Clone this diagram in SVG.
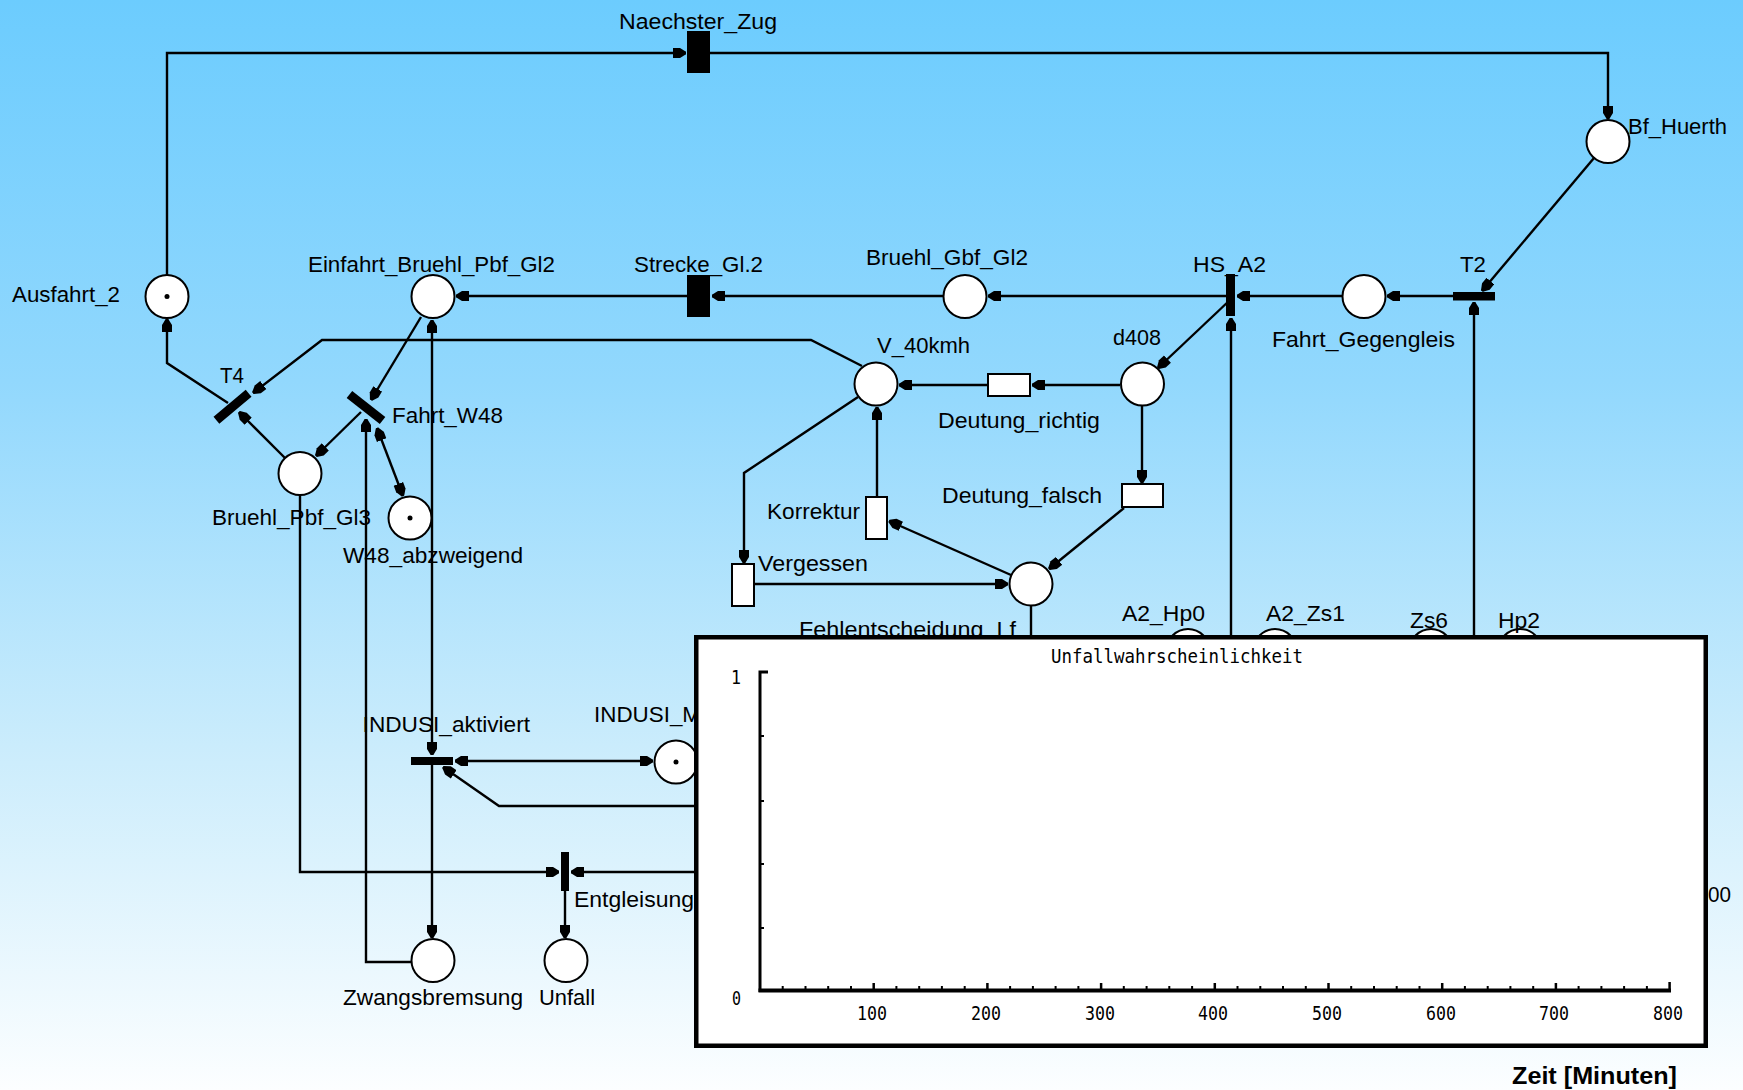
<svg xmlns="http://www.w3.org/2000/svg" width="1743" height="1090" viewBox="0 0 1743 1090">
<defs>
<linearGradient id="bg" x1="0" y1="0" x2="0" y2="1">
<stop offset="0" stop-color="#6CCCFE"/>
<stop offset="0.35" stop-color="#92D8FD"/>
<stop offset="0.7" stop-color="#CDEDFC"/>
<stop offset="1" stop-color="#FCFEFF"/>
</linearGradient>
<marker id="arr" viewBox="0 -6 14 12" refX="13" refY="0" markerWidth="14" markerHeight="12" markerUnits="userSpaceOnUse" orient="auto-start-reverse">
<path d="M0,-5 H7 L13,-1.3 V1.3 L7,5 H0 Z" fill="#000"/>
</marker>
</defs>
<style>
.lbl{font-family:"Liberation Sans",Arial,sans-serif;font-size:22px;fill:#000}
.pl{fill:#fff;stroke:#000;stroke-width:2}
.tb{fill:#000}
.tw{fill:#fff;stroke:#000;stroke-width:2}
.arc{fill:none;stroke:#000;stroke-width:2.4}
.tok{fill:#000}
.mono{font-family:"DejaVu Sans Mono","Liberation Mono",monospace;font-size:20px;fill:#000}
.ax{fill:none;stroke:#000}
</style>
<rect x="0" y="0" width="1743" height="1090" fill="url(#bg)"/>

<g id="connectors">
<path class="arc" d="M167,275 V53 H686" marker-end="url(#arr)"/>
<path class="arc" d="M710,53 H1608 V119" marker-end="url(#arr)"/>
<path class="arc" d="M1594,158 L1482,291" marker-end="url(#arr)"/>
<path class="arc" d="M1453,296 H1387" marker-end="url(#arr)"/>
<path class="arc" d="M1342,296 H1237" marker-end="url(#arr)"/>
<path class="arc" d="M1226,296 H988" marker-end="url(#arr)"/>
<path class="arc" d="M943,296 H712" marker-end="url(#arr)"/>
<path class="arc" d="M687,296 H456" marker-end="url(#arr)"/>
<path class="arc" d="M1230,300 L1158,368" marker-end="url(#arr)"/>
<path class="arc" d="M1231,645 V318" marker-end="url(#arr)"/>
<path class="arc" d="M1474,645 V302" marker-end="url(#arr)"/>
<path class="arc" d="M1120,385 H1032" marker-end="url(#arr)"/>
<path class="arc" d="M988,385 H899" marker-end="url(#arr)"/>
<path class="arc" d="M1142,406 V483" marker-end="url(#arr)"/>
<path class="arc" d="M1124,508 L1049,569" marker-end="url(#arr)"/>
<path class="arc" d="M1011,575 L889,521" marker-end="url(#arr)"/>
<path class="arc" d="M877,496 V407" marker-end="url(#arr)"/>
<path class="arc" d="M858,397 L744,473 V563" marker-end="url(#arr)"/>
<path class="arc" d="M754,584 H1008" marker-end="url(#arr)"/>
<path class="arc" d="M862,366 L811,340 H322 L253,393" marker-end="url(#arr)"/>
<path class="arc" d="M421,317 L371,400" marker-end="url(#arr)"/>
<path class="arc" d="M432,320 V755" marker-start="url(#arr)" marker-end="url(#arr)"/>
<path class="arc" d="M432,765 V938" marker-end="url(#arr)"/>
<path class="arc" d="M455,761 H653" marker-start="url(#arr)" marker-end="url(#arr)"/>
<path class="arc" d="M705,806 H499 L443,767" marker-end="url(#arr)"/>
<path class="arc" d="M300,495 V872 H559" marker-end="url(#arr)"/>
<path class="arc" d="M705,872 H571" marker-end="url(#arr)"/>
<path class="arc" d="M565,891 V938" marker-end="url(#arr)"/>
<path class="arc" d="M411,962 H366 V419" marker-end="url(#arr)"/>
<path class="arc" d="M377,428 L403,496" marker-start="url(#arr)" marker-end="url(#arr)"/>
<path class="arc" d="M361,412 L316,456" marker-end="url(#arr)"/>
<path class="arc" d="M285,458 L239,412" marker-end="url(#arr)"/>
<path class="arc" d="M228,403 L167,363 V319" marker-end="url(#arr)"/>
<path class="arc" d="M1031,605 V645"/>
</g>

<g id="Ausfahrt_2"><circle class="pl" cx="167" cy="296.5" r="21.5"/><circle class="tok" cx="167" cy="296.5" r="2.5"/><text class="lbl" x="12" y="301.5" textLength="108" lengthAdjust="spacingAndGlyphs">Ausfahrt_2</text></g>
<g id="Einfahrt_Bruehl_Pbf_Gl2"><circle class="pl" cx="433" cy="296.5" r="21.5"/><text class="lbl" x="308" y="271.5" textLength="247" lengthAdjust="spacingAndGlyphs">Einfahrt_Bruehl_Pbf_Gl2</text></g>
<g id="Naechster_Zug"><rect class="tb" x="687" y="31" width="23" height="42"/><text class="lbl" x="619" y="28.5" textLength="158" lengthAdjust="spacingAndGlyphs">Naechster_Zug</text></g>
<g id="Strecke_Gl2"><rect class="tb" x="687" y="275" width="23" height="42"/><text class="lbl" x="634" y="271.5" textLength="129" lengthAdjust="spacingAndGlyphs">Strecke_Gl.2</text></g>
<g id="Bruehl_Gbf_Gl2"><circle class="pl" cx="965" cy="296.5" r="21.5"/><text class="lbl" x="866" y="265" textLength="162" lengthAdjust="spacingAndGlyphs">Bruehl_Gbf_Gl2</text></g>
<g id="HS_A2"><rect class="tb" x="1226" y="274" width="9" height="42"/><text class="lbl" x="1193" y="271.5" textLength="73" lengthAdjust="spacingAndGlyphs">HS_A2</text></g>
<g id="Fahrt_Gegengleis"><circle class="pl" cx="1364" cy="296.5" r="21.5"/><text class="lbl" x="1272" y="346.5" textLength="183" lengthAdjust="spacingAndGlyphs">Fahrt_Gegengleis</text></g>
<g id="T2"><rect class="tb" x="1453" y="292" width="42" height="8.5"/><text class="lbl" x="1460" y="272" textLength="26" lengthAdjust="spacingAndGlyphs">T2</text></g>
<g id="Bf_Huerth"><circle class="pl" cx="1608" cy="141.5" r="21.5"/><text class="lbl" x="1628" y="134" textLength="99" lengthAdjust="spacingAndGlyphs">Bf_Huerth</text></g>
<g id="d408"><circle class="pl" cx="1142.5" cy="384" r="21.5"/><text class="lbl" x="1113" y="345" textLength="48" lengthAdjust="spacingAndGlyphs">d408</text></g>
<g id="V_40kmh"><circle class="pl" cx="876" cy="384" r="21.5"/><text class="lbl" x="877" y="352.5" textLength="93" lengthAdjust="spacingAndGlyphs">V_40kmh</text></g>
<g id="Deutung_richtig"><rect class="tw" x="988" y="374" width="42" height="22"/><text class="lbl" x="938" y="427.5" textLength="162" lengthAdjust="spacingAndGlyphs">Deutung_richtig</text></g>
<g id="Deutung_falsch"><rect class="tw" x="1122" y="484" width="41" height="23"/><text class="lbl" x="942" y="502.5" textLength="160" lengthAdjust="spacingAndGlyphs">Deutung_falsch</text></g>
<g id="Korrektur"><rect class="tw" x="866" y="497" width="21" height="42"/><text class="lbl" x="767" y="519" textLength="93" lengthAdjust="spacingAndGlyphs">Korrektur</text></g>
<g id="Vergessen"><rect class="tw" x="732" y="564" width="22" height="42"/><text class="lbl" x="758" y="570.5" textLength="110" lengthAdjust="spacingAndGlyphs">Vergessen</text></g>
<g id="Fehlentscheidung_Lf"><circle class="pl" cx="1031" cy="584" r="21.5"/><text class="lbl" x="799" y="636.5" textLength="217" lengthAdjust="spacingAndGlyphs">Fehlentscheidung_Lf</text></g>
<g id="A2_Hp0"><circle class="pl" cx="1188" cy="650.5" r="21.5"/><text class="lbl" x="1122" y="620.5" textLength="83" lengthAdjust="spacingAndGlyphs">A2_Hp0</text></g>
<g id="A2_Zs1"><circle class="pl" cx="1275" cy="650.5" r="21.5"/><text class="lbl" x="1266" y="621" textLength="79" lengthAdjust="spacingAndGlyphs">A2_Zs1</text></g>
<g id="Zs6"><circle class="pl" cx="1431" cy="650.5" r="21.5"/><text class="lbl" x="1410" y="628" textLength="38" lengthAdjust="spacingAndGlyphs">Zs6</text></g>
<g id="Hp2"><circle class="pl" cx="1520" cy="650.5" r="21.5"/><text class="lbl" x="1498" y="628" textLength="42" lengthAdjust="spacingAndGlyphs">Hp2</text></g>
<g id="T4"><rect class="tb" x="-21" y="-4.5" width="42" height="9" transform="translate(232.5,406.7) rotate(-40)"/><text class="lbl" x="220" y="382.5" textLength="24" lengthAdjust="spacingAndGlyphs">T4</text></g>
<g id="Fahrt_W48"><rect class="tb" x="-21" y="-4.5" width="42" height="9" transform="translate(366,407.5) rotate(38)"/><text class="lbl" x="392" y="423" textLength="111" lengthAdjust="spacingAndGlyphs">Fahrt_W48</text></g>
<g id="Bruehl_Pbf_Gl3"><circle class="pl" cx="300" cy="473.5" r="21.5"/><text class="lbl" x="212" y="525" textLength="159" lengthAdjust="spacingAndGlyphs">Bruehl_Pbf_Gl3</text></g>
<g id="W48_abzweigend"><circle class="pl" cx="410" cy="518" r="21.5"/><circle class="tok" cx="410" cy="518" r="2.5"/><text class="lbl" x="343" y="563" textLength="180" lengthAdjust="spacingAndGlyphs">W48_abzweigend</text></g>
<g id="INDUSI_aktiviert"><rect class="tb" x="411" y="757" width="42" height="8"/><text class="lbl" x="362.6" y="731.5" textLength="167.4" lengthAdjust="spacingAndGlyphs">INDUSI_aktiviert</text></g>
<g id="INDUSI_M"><circle class="pl" cx="676" cy="762" r="21.5"/><circle class="tok" cx="676" cy="762" r="2.5"/><text class="lbl" x="594" y="721.5" textLength="107" lengthAdjust="spacingAndGlyphs">INDUSI_M</text></g>
<g id="Entgleisung"><rect class="tb" x="561" y="852" width="8" height="39"/><text class="lbl" x="574" y="906.5" textLength="120" lengthAdjust="spacingAndGlyphs">Entgleisung</text></g>
<g id="Zwangsbremsung"><circle class="pl" cx="433" cy="960.5" r="21.5"/><text class="lbl" x="343" y="1005" textLength="180" lengthAdjust="spacingAndGlyphs">Zwangsbremsung</text></g>
<g id="Unfall"><circle class="pl" cx="566" cy="960.5" r="21.5"/><text class="lbl" x="539" y="1005" textLength="56" lengthAdjust="spacingAndGlyphs">Unfall</text></g>
<text class="lbl" x="1708" y="901.5" textLength="23" lengthAdjust="spacingAndGlyphs">00</text>

<g id="chart">
<rect x="696.25" y="637.25" width="1009.5" height="408.5" fill="#fff" stroke="#000" stroke-width="4.5"/>
<text class="mono" x="1051" y="663" textLength="252" lengthAdjust="spacingAndGlyphs">Unfallwahrscheinlichkeit</text>
<path class="ax" stroke-width="3" d="M760,671 V992 M758.5,672 H768"/>
<path class="ax" stroke-width="2" d="M760,736 H764 M760,801 H764 M760,864 H764 M760,928 H764"/>
<path class="ax" stroke-width="4" d="M758.5,990.5 H1671"/>
<path class="ax" stroke-width="2.5" d="M873.7,990 V983 M987.4,990 V983 M1101.1,990 V983 M1214.8,990 V983 M1328.5,990 V983 M1442.2,990 V983 M1555.9,990 V983 M1669.6,990 V982"/>
<path class="ax" stroke-width="2" d="M782.7,990 V986 M805.5,990 V986 M828.2,990 V986 M851,990 V986 M896.4,990 V986 M919.2,990 V986 M941.9,990 V986 M964.7,990 V986 M1010.1,990 V986 M1032.9,990 V986 M1055.6,990 V986 M1078.4,990 V986 M1123.8,990 V986 M1146.6,990 V986 M1169.3,990 V986 M1192.1,990 V986 M1237.5,990 V986 M1260.3,990 V986 M1283,990 V986 M1305.8,990 V986 M1351.2,990 V986 M1374,990 V986 M1396.7,990 V986 M1419.5,990 V986 M1464.9,990 V986 M1487.7,990 V986 M1510.4,990 V986 M1533.2,990 V986 M1578.6,990 V986 M1601.4,990 V986 M1624.1,990 V986 M1646.9,990 V986"/>
<text class="mono" x="731" y="684" textLength="10" lengthAdjust="spacingAndGlyphs">1</text>
<text class="mono" x="732" y="1005" textLength="9" lengthAdjust="spacingAndGlyphs">0</text>
<g class="mono">
<text x="857" y="1020" textLength="30" lengthAdjust="spacingAndGlyphs">100</text>
<text x="971" y="1020" textLength="30" lengthAdjust="spacingAndGlyphs">200</text>
<text x="1085" y="1020" textLength="30" lengthAdjust="spacingAndGlyphs">300</text>
<text x="1198" y="1020" textLength="30" lengthAdjust="spacingAndGlyphs">400</text>
<text x="1312" y="1020" textLength="30" lengthAdjust="spacingAndGlyphs">500</text>
<text x="1426" y="1020" textLength="30" lengthAdjust="spacingAndGlyphs">600</text>
<text x="1539" y="1020" textLength="30" lengthAdjust="spacingAndGlyphs">700</text>
<text x="1653" y="1020" textLength="30" lengthAdjust="spacingAndGlyphs">800</text>
</g>
</g>
<text x="1512" y="1084" font-family="Liberation Sans, Arial, sans-serif" font-size="24" font-weight="bold" textLength="165" lengthAdjust="spacingAndGlyphs">Zeit [Minuten]</text>
</svg>
